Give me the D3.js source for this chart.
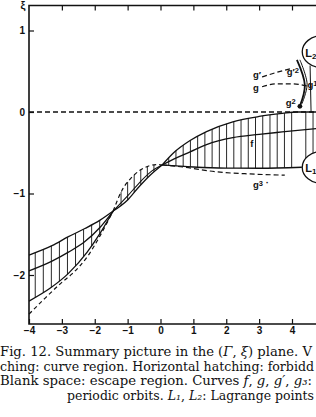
<!DOCTYPE html>
<html>
<head>
<meta charset="utf-8">
<script src="https://cdn.jsdelivr.net/npm/d3@7"></script>
<style>
  body { margin: 0; background: #fff; }
  svg { display: block; }
  .tick text { font-family: "Liberation Sans", Arial, sans-serif; font-weight: bold; font-size: 10px; fill: #111; }
  .tick line { stroke: #111; stroke-width: 1.2; }
  .lab { font-family: "Liberation Sans", Arial, sans-serif; font-weight: bold; font-size: 9.5px; fill: #111; }
  .cap { font-family: "DejaVu Serif", serif; font-size: 12.5px; fill: #111; }
</style>
</head>
<body>
<div id="fig"></div>
<script>
// values, points are [Gamma, xi]
var xTicks = [-4, -3, -2, -1, 0, 1, 2, 3, 4];
var yTicks = [1, 0, -1, -2];

// left part of the curve region
var leftUpper = [[-4,-1.755],[-3.3,-1.64],[-2.8,-1.53],[-2.3,-1.43],[-1.85,-1.33],[-1.44,-1.215]];
var leftMid   = [[-4,-1.95],[-3.3,-1.83],[-2.8,-1.72],[-2.3,-1.59],[-1.85,-1.42],[-1.44,-1.215]];
var leftLower = [[-4,-2.32],[-3.35,-2.16],[-2.8,-1.98],[-2.23,-1.72],[-1.84,-1.49],[-1.44,-1.215]];
var leftDash  = [[-4,-2.48],[-3.5,-2.28],[-3,-2.09],[-2.7,-1.99],[-2.2,-1.76],[-1.84,-1.52],[-1.44,-1.215]];

// lens between the two crossings
var lensDash  = [[-1.44,-1.215],[-1.17,-0.96],[-0.87,-0.8],[-0.47,-0.68],[-0.11,-0.645],[0.05,-0.65]];
var lensMid   = [[-1.44,-1.215],[-1.0,-1.03],[-0.6,-0.85],[-0.25,-0.72],[0.05,-0.65]];
var lensLower = [[-1.44,-1.215],[-1.0,-1.08],[-0.68,-0.93],[-0.3,-0.77],[0.05,-0.65]];

// right part
var rightUpper = [[0.05,-0.65],[0.4,-0.5],[0.9,-0.35],[1.4,-0.24],[2.2,-0.12],[3.0,-0.055],[3.7,-0.018],[4.15,0],[4.8,0]];
var curveF     = [[0.05,-0.65],[0.5,-0.56],[0.9,-0.49],[1.4,-0.4],[2.2,-0.315],[3.0,-0.275],[3.7,-0.245],[4.8,-0.2]];
var rightLower = [[0.05,-0.65],[1,-0.675],[2,-0.688],[3,-0.69],[4.3,-0.678]];
var curveG3    = [[0.05,-0.65],[0.68,-0.675],[1.72,-0.735],[2.72,-0.76],[3.78,-0.775]];

// short orbits near L2
var curveGp  = [[3.09,0.43],[3.48,0.48],[3.94,0.53]];
var curveG   = [[3.09,0.31],[3.54,0.345],[4.03,0.345],[4.45,0.32]];
var stemA    = [[4.15,0.64],[4.39,0.33],[4.24,0.074]];
var stemB    = [[4.24,0.64],[4.46,0.34],[4.3,0.1]];
var stemC    = [[4.55,0.57],[4.58,0]];
var dotG2    = [4.24, 0.07];

var lagrange = [{name: "L", sub: "2", g: 4.92, xi: 0.74}, {name: "L", sub: "1", g: 4.92, xi: -0.68}];

var labels = [
  {t: "f", g: 2.73, xi: -0.43},
  {t: "g\u2032", g: 2.81, xi: 0.415},
  {t: "g", g: 2.81, xi: 0.26},
  {t: "g\u2032", s: "2", g: 3.84, xi: 0.45},
  {t: "g", s: "2", g: 3.81, xi: 0.075},
  {t: "g", s: "1", g: 4.47, xi: 0.295},
  {t: "g", s: "3", g: 2.81, xi: -0.93}
];

// caption rows as visible in the (cropped) scan: [text, italic]
var capRows = [
  [["Fig. 12. Summary picture in the ("], ["\u0393", 1], [", "], ["\u03be", 1], [") plane. V"]],
  [["ching: curve region. Horizontal hatching: forbidd"]],
  [["Blank space: escape region. Curves "], ["f", 1], [", "], ["g", 1], [", "], ["g\u2032", 1], [", "], ["g\u2083", 1], [":"]],
  [["periodic orbits. "], ["L\u2081", 1], [", "], ["L\u2082", 1], [": Lagrange points"]]
];

var W = 316, H = 417;
var x = d3.scaleLinear().domain([-4, 4]).range([29, 292]);
var y = d3.scaleLinear().domain([1, -2]).range([30.5, 275]);
var top_ = 5.5, bottom = 324;

var svg = d3.select("#fig").append("svg").attr("width", W).attr("height", H);

var line = d3.line().x(function(d) { return x(d[0]); }).y(function(d) { return y(d[1]); })
  .curve(d3.curveMonotoneX);
var lineCR = d3.line().x(function(d) { return x(d[0]); }).y(function(d) { return y(d[1]); })
  .curve(d3.curveCatmullRom);

var plot = svg.append("g");

// hatching first, curves on top
function sampler(pts) {
  var p = plot.append("path").attr("d", line(pts)).attr("fill", "none").attr("stroke", "none");
  var node = p.node(), len = node.getTotalLength(), s = [];
  for (var i = 0; i <= 400; i++) { var q = node.getPointAtLength(len * i / 400); s.push([q.x, q.y]); }
  p.remove();
  return function(px) {
    for (var i = 1; i < s.length; i++) {
      if (s[i][0] >= px) {
        var a = s[i-1], b = s[i], t = (px - a[0]) / ((b[0] - a[0]) || 1);
        return a[1] + t * (b[1] - a[1]);
      }
    }
    return s[s.length-1][1];
  };
}

function hatch(topPts, botPts, from, to, step) {
  var ft = sampler(topPts), fb = sampler(botPts);
  for (var g = from; g <= to + 1e-9; g += step) {
    var px = x(g);
    plot.append("line").attr("x1", px).attr("x2", px)
      .attr("y1", ft(px)).attr("y2", fb(px))
      .attr("stroke", "#111").attr("stroke-width", 0.9);
  }
}
hatch(leftUpper, leftLower, -3.81, -1.62, 0.245);
hatch(lensDash, lensLower, -1.2, -0.1, 0.2);
hatch(rightUpper, rightLower, 0.25, 4.2, 0.22);

// hatch lines right of 4.2 running down to the L1 oval
var L1 = lagrange[1];
var rx = 20, ry = 16;
[4.42, 4.64].forEach(function(g) {
  var px = x(g), cx = x(L1.g), cy = y(L1.xi);
  var k = (px - cx) / rx;
  var yb = Math.abs(k) < 1 ? cy - ry * Math.sqrt(1 - k * k) : cy;
  plot.append("line").attr("x1", px).attr("x2", px).attr("y1", y(0)).attr("y2", yb)
    .attr("stroke", "#111").attr("stroke-width", 0.9);
});

function draw(pts, dash, w, gen) {
  plot.append("path").attr("d", (gen || line)(pts))
    .attr("fill", "none").attr("stroke", "#111")
    .attr("stroke-width", w || 1.3)
    .attr("stroke-dasharray", dash || null);
}
draw(leftUpper); draw(leftMid); draw(leftLower);
draw(leftDash, "4,3", 1.2);
draw(lensDash, "4,3", 1.2); draw(lensMid, null, 1.1); draw(lensLower);
draw(rightUpper); draw(curveF); draw(rightLower);
draw(curveG3, "5,3", 1.2);
draw(curveGp, "5,3", 1.2); draw(curveG, "5,3", 1.2);
draw(stemA, null, 1.8, lineCR); draw(stemB, null, 1, lineCR); draw(stemC, null, 1, lineCR);

plot.append("circle").attr("cx", x(dotG2[0])).attr("cy", y(dotG2[1])).attr("r", 2.4).attr("fill", "#111");

// Lagrange point ovals
lagrange.forEach(function(d) {
  plot.append("ellipse").attr("cx", x(d.g)).attr("cy", y(d.xi)).attr("rx", rx).attr("ry", ry)
    .attr("fill", "#fff").attr("stroke", "#111").attr("stroke-width", 1.3);
  var t = plot.append("text").attr("class", "lab").attr("x", x(d.g) - 17).attr("y", y(d.xi) + 5)
    .style("font-size", "11px").text(d.name);
  t.append("tspan").attr("dy", 2).style("font-size", "8px").text(d.sub);
});

// dashed xi = 0 line
svg.append("line").attr("x1", 29).attr("x2", W).attr("y1", y(0)).attr("y2", y(0))
  .attr("stroke", "#111").attr("stroke-width", 1.3).attr("stroke-dasharray", "5,3");

labels.forEach(function(d) {
  var t = svg.append("text").attr("class", "lab").attr("x", x(d.g)).attr("y", y(d.xi)).text(d.t);
  if (d.s) t.append("tspan").attr("dy", -2).style("font-size", "7.5px").text(d.s);
});
svg.append("text").attr("class", "lab").attr("x", x(3.2)).attr("y", y(-0.91)).text("\u00b7");

// frame
svg.append("path").attr("d", "M" + W + "," + top_ + "H29V" + bottom + "H" + W)
  .attr("fill", "none").attr("stroke", "#111").attr("stroke-width", 1.6);

svg.append("g").attr("transform", "translate(0," + bottom + ")")
  .call(d3.axisBottom(x).tickValues(xTicks).tickSize(-5).tickPadding(3).tickFormat(d3.format("d")))
  .call(function(g) { g.select(".domain").remove(); });
svg.append("g").attr("transform", "translate(0," + top_ + ")")
  .call(d3.axisTop(x).tickValues(xTicks.slice(1)).tickSize(-5).tickFormat(""))
  .call(function(g) { g.select(".domain").remove(); });
svg.append("g").attr("transform", "translate(29,0)")
  .call(d3.axisLeft(y).tickValues(yTicks).tickSize(-5).tickPadding(4).tickFormat(d3.format("d")))
  .call(function(g) { g.select(".domain").remove(); });

svg.append("text").attr("class", "lab").attr("x", 23).attr("y", 9)
  .attr("text-anchor", "middle").style("font-size", "11px").text("\u03be");

// caption
var capX = [0, 0, 0, 67], capY = [356, 371, 385, 400], capLen = [312, 314, 312, 247];
capRows.forEach(function(row, i) {
  var t = svg.append("text").attr("class", "cap").attr("x", capX[i]).attr("y", capY[i])
    .attr("textLength", capLen[i]).attr("lengthAdjust", "spacingAndGlyphs");
  row.forEach(function(p) {
    t.append("tspan").style("font-style", p[1] ? "italic" : null).text(p[0]);
  });
});
</script>
</body>
</html>
